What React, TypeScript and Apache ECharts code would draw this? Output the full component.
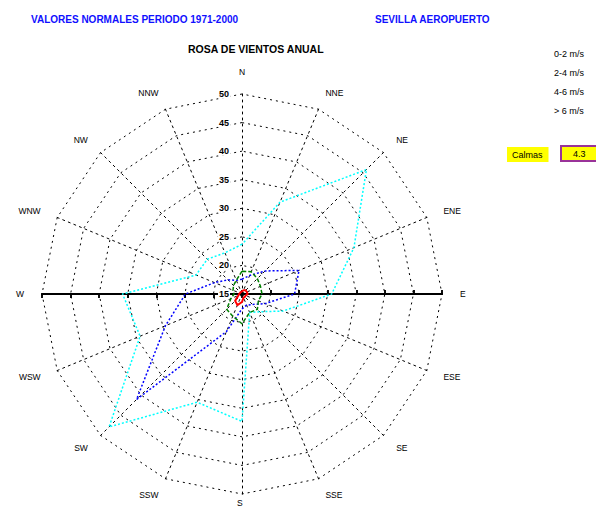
import React, { useEffect, useRef } from 'react';
import * as echarts from 'echarts';

// Directions listed clockwise from North
const directions = ['N', 'NNE', 'NE', 'ENE', 'E', 'ESE', 'SE', 'SSE', 'S', 'SSW', 'SW', 'WSW', 'W', 'WNW', 'NW', 'NNW'];
const speedClasses = ['0-2 m/s', '2-4 m/s', '4-6 m/s', '> 6 m/s'];
const seriesColors = ['#00FFFF', '#0000FF', '#008000', '#FF0000'];
const cyanValues = [23.7, 32.4, 45.8, 36.2, 30.7, 22.8, 19.4, 18.5, 37.3, 35.5, 47.9, 34.3, 35.9, 23.7, 23.6, 22.8];
const blueValues = [17.6, 18.5, 20.7, 25.8, 24.2, 19.4, 17.6, 17.1, 17.6, 22.1, 41.1, 29.5, 24.9, 20.2, 18.5, 17.6];
const greenValues = [19.0, 19.2, 18.8, 18.5, 18.5, 18.1, 18.8, 18.5, 20.2, 19.2, 18.8, 17.1, 16.4, 16.7, 17.1, 17.6];
const redValues = [15.5, 15.7, 15.9, 15.9, 16.0, 15.7, 15.7, 15.7, 16.4, 17.1, 16.7, 15.7, 15.5, 15.4, 15.4, 15.4];
const ringMin = 15;
const ringMax = 50;
const ringStep = 5;
const headerLeft = 'VALORES NORMALES PERIODO 1971-2000';
const headerRight = 'SEVILLA AEROPUERTO';
const chartTitle = 'ROSA DE VIENTOS ANUAL';
const calmLabel = 'Calmas';
const calmValue = '4.3';
const southLabel = 'S';

export default function App() {
  const ref = useRef<HTMLDivElement>(null);
  useEffect(() => {
    document.body.style.margin = '0';
    if (!ref.current) return;
    const chart = echarts.init(ref.current, undefined, { renderer: 'svg' });
    // ECharts radar runs counter-clockwise: reorder so directions read clockwise
    const order = directions.map((_, i) => (i === 0 ? 0 : directions.length - i));
    // the south name sits at the page's bottom edge, so it is drawn as a separate text
    const indicator = order.map((i) => ({ name: directions[i] === southLabel ? '' : directions[i], min: ringMin, max: ringMax }));
    const allValues = [cyanValues, blueValues, greenValues, redValues];
    const lineTypes: any[] = [[2, 2], [2, 2], [4, 2], 'solid'];
    const center = [242, 294];
    const radius = 200;
    const font = 'Arial, "Liberation Sans", sans-serif';
    const axisRadar = (inside: boolean) => ({
      center,
      radius,
      startAngle: 0,
      shape: 'polygon',
      splitNumber: 7,
      indicator: [
        { name: '', min: ringMin, max: ringMax },
        { name: '', min: ringMin, max: ringMax },
      ],
      axisName: { show: false },
      splitArea: { show: false },
      splitLine: { show: false },
      axisLine: { lineStyle: { color: '#000', width: 2, type: 'solid' } },
      axisTick: { show: true, inside, length: 4, lineStyle: { color: '#000', width: 1.5 } },
      axisLabel: { show: false },
    });
    const option: any = {
      animation: false,
      backgroundColor: '#fff',
      title: [
        { text: headerLeft, left: 26, top: 9, textStyle: { color: '#1010FF', fontSize: 10, fontWeight: 'bold', fontFamily: font } },
        { text: headerRight, left: 370, top: 9, textStyle: { color: '#1010FF', fontSize: 10, fontWeight: 'bold', fontFamily: font } },
        { text: chartTitle, left: 183, top: 38, textStyle: { color: '#000', fontSize: 10.5, fontWeight: 'bold', fontFamily: font } },
        { text: calmLabel, left: 507, top: 147, padding: [3, 6, 3, 5], backgroundColor: '#FFFF00', textStyle: { color: '#000', fontSize: 9, fontWeight: 'normal', fontFamily: font } },
        { text: calmValue, left: 561, top: 146, padding: [3, 12, 3, 12], backgroundColor: '#FFFF00', borderColor: '#993399', borderWidth: 2, textStyle: { color: '#000', fontSize: 9, fontWeight: 'normal', fontFamily: font } },
        { text: southLabel, left: 237, top: 498, padding: 0, textStyle: { color: '#000', fontSize: 8.5, fontWeight: 'normal', fontFamily: font } },
      ],
      legend: {
        orient: 'vertical',
        left: 548,
        top: 44,
        icon: 'none',
        itemWidth: 0,
        itemHeight: 8,
        itemGap: 10,
        selectedMode: false,
        data: speedClasses,
        textStyle: { color: '#000', fontSize: 9, fontFamily: font, padding: [0, 0, 0, -4] },
      },
      polar: { center, radius },
      angleAxis: { type: 'value', min: 0, max: 360, startAngle: 90, show: false },
      radiusAxis: {
        type: 'value',
        min: ringMin,
        max: ringMax,
        interval: ringStep,
        axisLine: { show: false },
        axisTick: { show: false },
        splitLine: { show: false },
        axisLabel: { color: '#000', fontSize: 9, fontWeight: 'bold', fontFamily: font, margin: 12, backgroundColor: '#fff', padding: [0, 1] },
        z: 5,
      },
      radar: [
        {
          center,
          radius,
          startAngle: 90,
          shape: 'polygon',
          splitNumber: 7,
          indicator,
          axisName: { color: '#000', fontSize: 8.5, fontFamily: font },
          nameGap: 18,
          splitArea: { show: false },
          splitLine: { lineStyle: { color: '#000', width: 1, type: [2, 4] } },
          axisLine: { lineStyle: { color: '#000', width: 1, type: [2, 4] } },
          axisLabel: { show: false },
        },
        axisRadar(false),
        axisRadar(true),
      ],
      series: speedClasses.map((name, k) => ({
        type: 'radar',
        radarIndex: 0,
        name,
        symbol: 'none',
        z: 10,
        lineStyle: { color: seriesColors[k], width: k === 3 ? 2 : 1.5, type: lineTypes[k] },
        itemStyle: { color: seriesColors[k] },
        data: [{ name, value: order.map((i) => allValues[k][i]) }],
      })),
    };
    chart.setOption(option);
    return () => chart.dispose();
  }, []);
  return <div ref={ref} style={{ width: 596, height: 512 }} />;
}
